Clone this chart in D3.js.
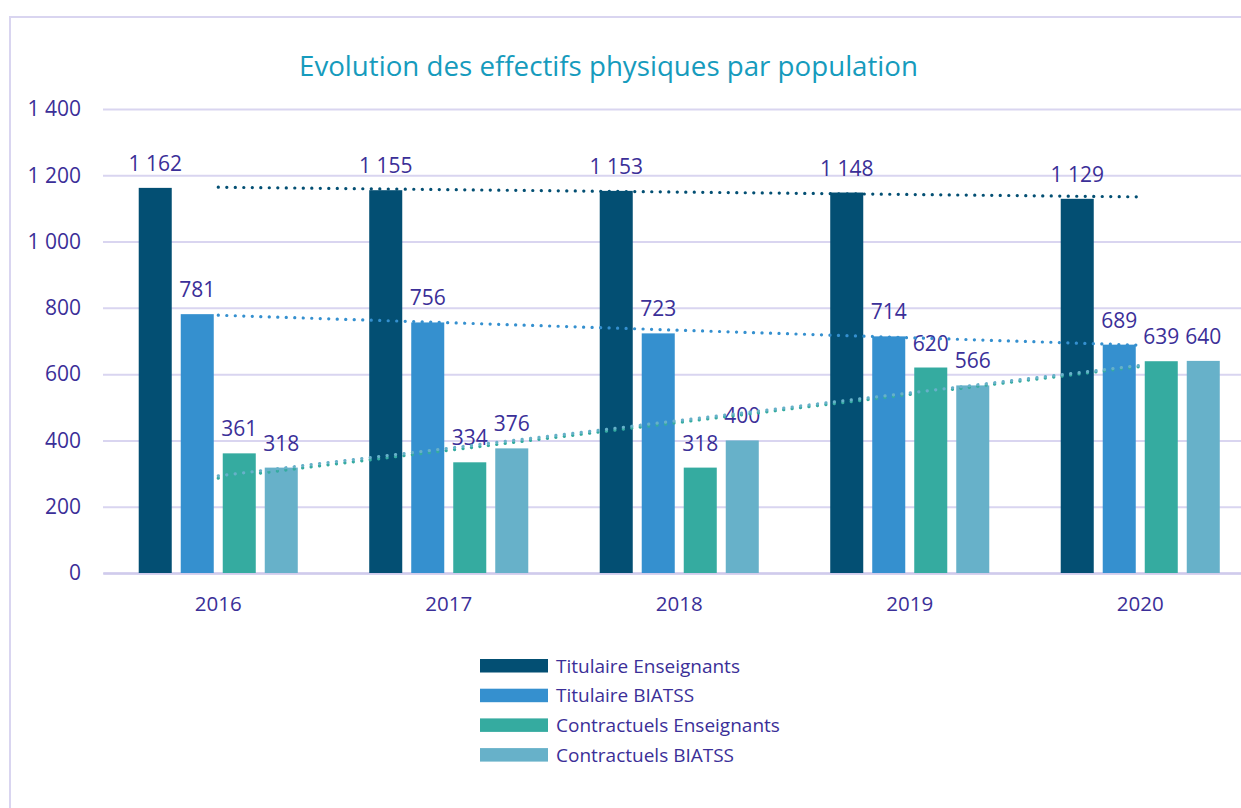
<!DOCTYPE html>
<html><head><meta charset="utf-8">
<script src="https://cdn.jsdelivr.net/npm/d3@7"></script>
<style>
body{margin:0;background:#fff}
svg{display:block}
text{font-family:"Open Sans",sans-serif}
</style>
</head><body><svg id="c" width="1241" height="808"></svg>
<script>
const years = ["2016","2017","2018","2019","2020"];
const seriesNames = ["Titulaire Enseignants","Titulaire BIATSS","Contractuels Enseignants","Contractuels BIATSS"];
const titulaireEnseignants = [1162,1155,1153,1148,1129];
const titulaireBiatss = [781,756,723,714,689];
const contractuelsEnseignants = [361,334,318,620,639];
const contractuelsBiatss = [318,376,400,566,640];
const yTicks = [0,200,400,600,800,1000,1200,1400];
const colors = ["#034f73","#3590cf","#35aba0","#67b1c9"];
const titleText = "Evolution des effectifs physiques par population";

const seriesValues = [titulaireEnseignants,titulaireBiatss,contractuelsEnseignants,contractuelsBiatss];
const series = seriesNames.map((n,i)=>({name:n,color:colors[i],values:seriesValues[i]}));

const textColor = "#3b2f98";
const gridColor = "#d9d5f0";
const fr = d3.formatLocale({decimal:",",thousands:" ",grouping:[3],currency:["","€"]});
const fmt = fr.format(",d");

const svg = d3.select("#c");
const W = 1241, H = 808;

// frame
svg.append("rect").attr("x",10).attr("y",17).attr("width",W+20).attr("height",H+20)
  .attr("fill","none").attr("stroke",gridColor).attr("stroke-width",2);

const y = d3.scaleLinear().domain([0,1400]).range([573,109]);
const x0 = d3.scaleBand().domain(years).range([103,1255.5]).paddingInner(0.31).paddingOuter(0.155);
const x1 = d3.scaleBand().domain(seriesNames).range([0,x0.bandwidth()]).paddingInner(0.214).paddingOuter(0);

// title
svg.append("text").attr("x",608.5).attr("y",76).attr("text-anchor","middle")
  .attr("fill","#169bbd").attr("font-size",27.7).text(titleText);

// gridlines
const gy = svg.append("g").attr("transform","translate(103,0)")
  .call(d3.axisLeft(y).tickValues(yTicks).tickSize(-(1255.5-103)).tickFormat(""));
gy.select(".domain").remove();
gy.selectAll(".tick line").attr("stroke",gridColor).attr("stroke-width",2);

// y labels
const yl = svg.append("g").attr("transform","translate(81,0)")
  .call(d3.axisLeft(y).tickValues(yTicks).tickSize(0).tickPadding(0).tickFormat(fmt));
yl.select(".domain").remove();
yl.selectAll(".tick text").attr("fill",textColor).attr("font-size",21).attr("font-family","'Open Sans',sans-serif");

// x axis
const xa = svg.append("g").attr("transform","translate(0,573)")
  .call(d3.axisBottom(x0).tickSize(0).tickPadding(23));
xa.select(".domain").attr("stroke","#d0cbec").attr("stroke-width",2.5);
xa.selectAll(".tick text").attr("fill",textColor).attr("font-size",20.5).attr("font-family","'Open Sans',sans-serif");

// bars
const groups = svg.append("g").selectAll("g").data(years).join("g")
  .attr("transform",d=>`translate(${x0(d)},0)`);
groups.selectAll("rect").data((d,i)=>series.map(s=>({s,v:s.values[i]}))).join("rect")
  .attr("x",d=>x1(d.s.name)).attr("width",x1.bandwidth())
  .attr("y",d=>y(d.v)).attr("height",d=>y(0)-y(d.v))
  .attr("fill",d=>d.s.color);

// trend lines (linear regression)
const xc = d=>x0(d)+x0.bandwidth()/2;
series.forEach(s=>{
  const n = s.values.length;
  const xs = d3.range(1,n+1);
  const mx = d3.mean(xs), my = d3.mean(s.values);
  const slope = d3.sum(xs,(xv,i)=>(xv-mx)*(s.values[i]-my))/d3.sum(xs,xv=>(xv-mx)*(xv-mx));
  const pts = [[xc(years[0]), y(my+slope*(1-mx))],[xc(years[n-1]), y(my+slope*(n-mx))]];
  svg.append("path").attr("d",d3.line()(pts)).attr("fill","none")
    .attr("stroke",s.color).attr("stroke-width",3.2).attr("stroke-linecap","round")
    .attr("stroke-dasharray","0.1 8.4");
});

// labels
groups.selectAll("text").data((d,i)=>series.map(s=>({s,v:s.values[i]}))).join("text")
  .attr("x",d=>x1(d.s.name)+x1.bandwidth()/2).attr("y",d=>y(d.v)-17)
  .attr("text-anchor","middle").attr("fill",textColor).attr("font-size",21)
  .text(d=>fmt(d.v));

// legend
const lg = svg.append("g").selectAll("g").data(series).join("g")
  .attr("transform",(d,i)=>`translate(480,${659+i*29.7})`);
lg.append("rect").attr("width",68).attr("height",13.5).attr("fill",d=>d.color);
lg.append("text").attr("x",76).attr("y",13.5).attr("fill",textColor).attr("font-size",19).text(d=>d.name);
</script>
</body></html>
